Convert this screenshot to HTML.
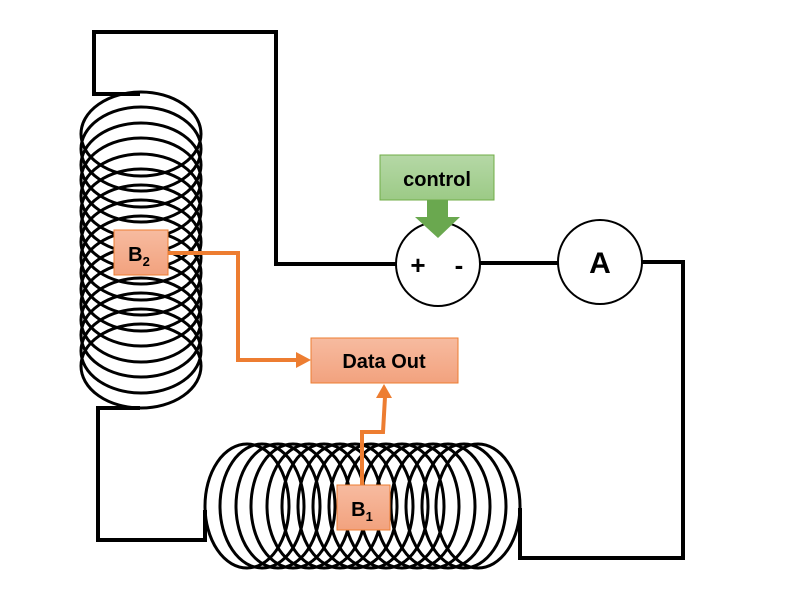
<!DOCTYPE html>
<html><head><style>body{margin:0;background:#fff}svg{display:block}</style></head><body>
<svg width="800" height="600" viewBox="0 0 800 600" xmlns="http://www.w3.org/2000/svg" font-family="Liberation Sans, sans-serif">
<defs>
<linearGradient id="og" x1="0" y1="0" x2="0" y2="1"><stop offset="0" stop-color="#f7bba0"/><stop offset="1" stop-color="#f2a27e"/></linearGradient>
<linearGradient id="gg" x1="0" y1="0" x2="0" y2="1"><stop offset="0" stop-color="#b5d8a6"/><stop offset="1" stop-color="#9cca86"/></linearGradient>
</defs>
<g fill="none" stroke="#000" stroke-width="4">
<polyline points="140,94 94,94 94,32 276,32 276,264 396,264"/>
<polyline points="480,263 558,263"/>
<polyline points="642,262 683,262 683,558 520,558 520,508"/>
<polyline points="140,408 98,408 98,540 205,540 205,510"/>
</g>
<g fill="none" stroke="#000" stroke-width="3">
<ellipse cx="141" cy="134" rx="60" ry="42"/>
<ellipse cx="141" cy="149" rx="60" ry="42"/>
<ellipse cx="141" cy="165" rx="60" ry="42"/>
<ellipse cx="141" cy="180" rx="60" ry="42"/>
<ellipse cx="141" cy="196" rx="60" ry="42"/>
<ellipse cx="141" cy="211" rx="60" ry="42"/>
<ellipse cx="141" cy="227" rx="60" ry="42"/>
<ellipse cx="141" cy="242" rx="60" ry="42"/>
<ellipse cx="141" cy="258" rx="60" ry="42"/>
<ellipse cx="141" cy="273" rx="60" ry="42"/>
<ellipse cx="141" cy="289" rx="60" ry="42"/>
<ellipse cx="141" cy="304" rx="60" ry="42"/>
<ellipse cx="141" cy="320" rx="60" ry="42"/>
<ellipse cx="141" cy="335" rx="60" ry="42"/>
<ellipse cx="141" cy="351" rx="60" ry="42"/>
<ellipse cx="141" cy="366" rx="60" ry="42"/>
<ellipse cx="247" cy="506" rx="42" ry="62"/>
<ellipse cx="262" cy="506" rx="42" ry="62"/>
<ellipse cx="278" cy="506" rx="42" ry="62"/>
<ellipse cx="293" cy="506" rx="42" ry="62"/>
<ellipse cx="309" cy="506" rx="42" ry="62"/>
<ellipse cx="324" cy="506" rx="42" ry="62"/>
<ellipse cx="340" cy="506" rx="42" ry="62"/>
<ellipse cx="355" cy="506" rx="42" ry="62"/>
<ellipse cx="371" cy="506" rx="42" ry="62"/>
<ellipse cx="386" cy="506" rx="42" ry="62"/>
<ellipse cx="402" cy="506" rx="42" ry="62"/>
<ellipse cx="417" cy="506" rx="42" ry="62"/>
<ellipse cx="433" cy="506" rx="42" ry="62"/>
<ellipse cx="448" cy="506" rx="42" ry="62"/>
<ellipse cx="464" cy="506" rx="42" ry="62"/>
<ellipse cx="478" cy="506" rx="42" ry="62"/>
</g>
<circle cx="438" cy="264" r="42" fill="#fff" stroke="#000" stroke-width="2"/>
<circle cx="600" cy="262" r="42" fill="#fff" stroke="#000" stroke-width="2"/>
<text x="418" y="274" font-size="26" font-weight="bold" text-anchor="middle">+</text>
<text x="459" y="274" font-size="26" font-weight="bold" text-anchor="middle">-</text>
<text x="600" y="273" font-size="30" font-weight="bold" text-anchor="middle">A</text>
<rect x="380" y="155" width="114" height="45" fill="url(#gg)" stroke="#70ad47"/>
<text x="437" y="186" font-size="20" font-weight="bold" text-anchor="middle">control</text>
<polygon points="427,200 448,200 448,217 460,217 438,238 415,217 427,217" fill="#6aa84f"/>
<g fill="none" stroke="#ed7d31" stroke-width="4">
<polyline points="168,253 238,253 238,360 298,360"/>
<polyline points="362,487 362,432 383,432 385,397"/>
</g>
<polygon points="296,352 311,360 296,368" fill="#ed7d31"/>
<polygon points="376,398 384,384 392,398" fill="#ed7d31"/>
<rect x="311" y="338" width="147" height="45" fill="url(#og)" stroke="#ed7d31"/>
<text x="384" y="368" font-size="20" font-weight="bold" text-anchor="middle">Data Out</text>
<rect x="114" y="230" width="54" height="45" fill="url(#og)" stroke="#ed7d31"/>
<text x="139" y="261" font-size="20" font-weight="bold" text-anchor="middle">B<tspan font-size="13" dy="5">2</tspan></text>
<rect x="337" y="485" width="53" height="45" fill="url(#og)" stroke="#ed7d31"/>
<text x="362" y="516" font-size="20" font-weight="bold" text-anchor="middle">B<tspan font-size="13" dy="5">1</tspan></text>
</svg>
</body></html>
